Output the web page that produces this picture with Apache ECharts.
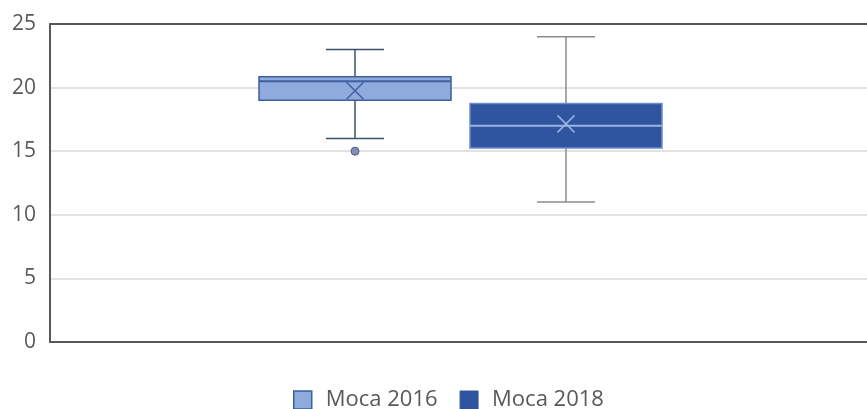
<!DOCTYPE html>
<html>
<head>
<meta charset="utf-8">
<style>
    html, body { margin: 0; padding: 0; background: #fff; }
    #chart { width: 867px; height: 409px; }
</style>
<script src="https://cdn.jsdelivr.net/npm/echarts@6/dist/echarts.min.js"></script>
</head>
<body>
<div id="chart"></div>
<script>
// Moca box plot data: [min, Q1, median, Q3, max]
var categories = [''];
var seriesNames = ['Moca 2016', 'Moca 2018'];
var moca2016 = [16, 19, 20.5, 20.85, 23];
var moca2016Mean = 19.75;
var moca2016Outliers = [15];
var moca2018 = [11, 15.25, 17, 18.75, 24];
var moca2018Mean = 17.15;
var moca2018Outliers = [];
var yTicks = [0, 5, 10, 15, 20, 25];

var styles = [
    { offset: -105.5, fill: '#8FAADC', boxStroke: '#3E5E9E', median: '#3E5E9E', mean: '#3E5E9E', whisker: '#3F4F6E' },
    { offset: 105.5, fill: '#2F55A0', boxStroke: '#6F8CCB', median: '#9DB3E0', mean: '#9DB3E0', whisker: '#8C8C8C' }
];

// 画箱线图
function boxRenderer(st, outliers) {
    return function (params, api) {
        var x = api.coord([api.value(0), 0])[0] + st.offset;
        var y = function (v) { return api.coord([0, v])[1]; };
        var lo = y(api.value(1)), q1 = y(api.value(2)), med = y(api.value(3));
        var q3 = y(api.value(4)), hi = y(api.value(5)), mean = y(api.value(6));
        var hw = 96, cap = 29, xm = 8.5;
        var line = function (x1, y1, x2, y2, c, w) {
            return { type: 'line', shape: { x1: x1, y1: y1, x2: x2, y2: y2 }, style: { stroke: c, lineWidth: w } };
        };
        var children = [
            line(x, hi, x, lo, st.whisker, 1.5),
            line(x - cap, hi, x + cap, hi, st.whisker, 1.5),
            line(x - cap, lo, x + cap, lo, st.whisker, 1.5),
            { type: 'rect', shape: { x: x - hw, y: q3, width: hw * 2, height: q1 - q3 },
              style: { fill: st.fill, stroke: st.boxStroke, lineWidth: 1.5 } },
            line(x - hw, med, x + hw, med, st.median, 2),
            line(x - xm, mean - xm, x + xm, mean + xm, st.mean, 1.5),
            line(x - xm, mean + xm, x + xm, mean - xm, st.mean, 1.5)
        ];
        outliers.forEach(function (v) {
            children.push({ type: 'circle', shape: { cx: x, cy: y(v), r: 4 },
                style: { fill: '#7F8FB5', stroke: '#4A5A80', lineWidth: 1 } });
        });
        return { type: 'group', children: children };
    };
}

var chart = echarts.init(document.getElementById('chart'));

var frameLine = { show: true, lineStyle: { color: '#595959', width: 2 } };

var option = {
    animation: false,
    grid: {
        left: 50, right: -4, top: 24, bottom: 67,
        outerBoundsMode: 'none'
    },
    legend: {
        data: [
            { name: seriesNames[0], itemStyle: { color: '#8FAADC', borderColor: '#3E5E9E', borderWidth: 1.5 } },
            { name: seriesNames[1], itemStyle: { color: '#2F55A0', borderColor: '#2F55A0', borderWidth: 1 } }
        ],
        icon: 'rect',
        left: 288, top: 384,
        itemWidth: 18, itemHeight: 18, itemGap: 22,
        textStyle: { color: '#595959', fontSize: 22, fontFamily: 'Open Sans', padding: [0, 0, 0, 9] }
    },
    xAxis: [
        {
            type: 'category',
            data: categories,
            axisLine: frameLine,
            axisTick: { show: false },
            axisLabel: { show: false }
        },
        {
            // 上边框
            type: 'category',
            position: 'top',
            data: categories,
            axisLine: frameLine,
            axisTick: { show: false },
            axisLabel: { show: false }
        }
    ],
    yAxis: {
        type: 'value',
        min: yTicks[0], max: yTicks[yTicks.length - 1], interval: 5,
        axisLine: frameLine,
        axisTick: { show: false },
        axisLabel: { color: '#595959', fontSize: 21, fontFamily: 'Open Sans', margin: 14 },
        splitLine: { lineStyle: { color: '#D9D9D9', width: 1.5 } }
    },
    series: [
        {
            name: seriesNames[0], type: 'custom',
            itemStyle: { color: '#8FAADC' },
            encode: { x: 0, y: [1, 2, 3, 4, 5, 6] },
            renderItem: boxRenderer(styles[0], moca2016Outliers),
            data: [[0].concat(moca2016, [moca2016Mean])]
        },
        {
            name: seriesNames[1], type: 'custom',
            itemStyle: { color: '#2F55A0' },
            encode: { x: 0, y: [1, 2, 3, 4, 5, 6] },
            renderItem: boxRenderer(styles[1], moca2018Outliers),
            data: [[0].concat(moca2018, [moca2018Mean])]
        }
    ]
};

chart.setOption(option);
window.addEventListener('resize', function () {
    chart.resize();
});
</script>
</body>
</html>
